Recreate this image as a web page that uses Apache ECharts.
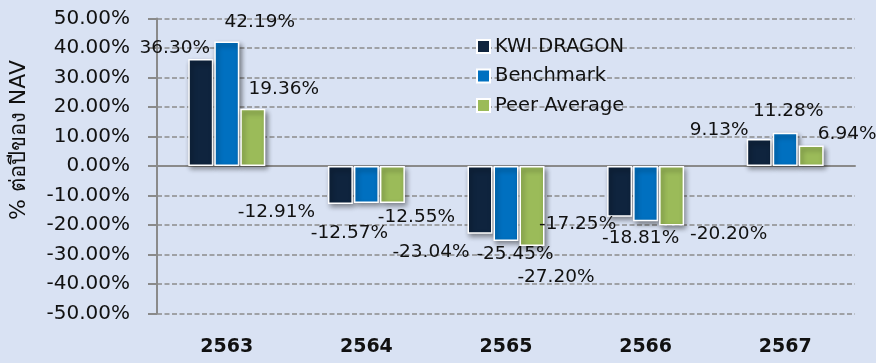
<!DOCTYPE html>
<html>
<head>
<meta charset="utf-8">
<script src="https://cdn.jsdelivr.net/npm/echarts@6/dist/echarts.min.js"></script>
<style>
  html, body { margin: 0; padding: 0; background: #D9E2F3; }
  #chart { width: 876px; height: 363px; }
</style>
</head>
<body>
<div id="chart"></div>
<script>
// Yearly returns (% per year of NAV)
const years = ['2563', '2564', '2565', '2566', '2567'];
const kwiDragon = [36.30, -12.91, -23.04, -17.25, 9.13];
const benchmark = [42.19, -12.57, -25.45, -18.81, 11.28];
const peerAverage = [19.36, -12.55, -27.20, -20.20, 6.94];
const seriesNames = ['KWI DRAGON', 'Benchmark', 'Peer Average'];
const yMin = -50, yMax = 50, yStep = 10;

// Hand-placed label nudges (px) for each bar's value label
const kwiLabelShift = [[-26, 0], [-64, -3], [-49, 7], [-42, -4], [-40, 2]];
const benchLabelShift = [[33, -8], [-17, 19], [9, 2], [-5, 6], [3, -10]];
const peerLabelShift = [[31, -9], [24, 3], [24, 20], [57, -2], [36, 0]];

const FONT = "'DejaVu Sans', 'Noto Sans', sans-serif";
const colors = ['#0F243E', '#0070C0', '#9BBB59'];

function barSeries(name, values, shifts, color) {
  return {
    name: name,
    type: 'bar',
    xAxisIndex: 0,
    barWidth: 25,
    barGap: '4%',
    itemStyle: {
      color: color,
      borderColor: '#FFFFFF',
      borderWidth: 1.5,
      shadowColor: 'rgba(0,0,0,0.45)',
      shadowBlur: 5,
      shadowOffsetX: 2,
      shadowOffsetY: 3
    },
    data: values.map((v, i) => ({
      value: v,
      label: { offset: shifts[i] }
    })),
    label: {
      show: true,
      position: 'outside',
      distance: 0,
      fontFamily: FONT,
      fontSize: 18.5,
      lineHeight: 22,
      color: '#111',
      formatter: p => p.value.toFixed(2) + '%'
    }
  };
}

const chart = echarts.init(document.getElementById('chart'), null, { renderer: 'canvas' });
chart.setOption({
  backgroundColor: '#D9E2F3',
  animation: false,
  grid: { left: 157, right: 21, top: 18.5, bottom: 49.7, containLabel: false },
  legend: {
    orient: 'vertical',
    left: 471,
    top: 31.5,
    icon: 'rect',
    itemWidth: 13,
    itemHeight: 13,
    itemGap: 9.5,
    textStyle: { fontFamily: FONT, fontSize: 19.5, lineHeight: 20, color: '#111' },
    data: seriesNames
  },
  graphic: [{
    type: 'text',
    x: 19,
    y: 140,
    rotation: Math.PI / 2,
    style: {
      text: '% ต่อปีของ NAV',
      font: "22px 'DejaVu Sans', 'Noto Sans', sans-serif",
      fill: '#111',
      textAlign: 'center',
      textVerticalAlign: 'middle'
    }
  }],
  xAxis: [{
    type: 'category',
    data: years,
    position: 'bottom',
    axisLine: { show: false, onZero: false },
    axisTick: { show: false },
    axisLabel: {
      margin: 24,
      fontFamily: FONT,
      fontSize: 19,
      fontWeight: 'bold',
      color: '#111'
    }
  }, {
    type: 'category',
    data: years,
    position: 'bottom',
    axisLine: { show: true, onZero: true, lineStyle: { color: '#8A8A8A', width: 2 } },
    axisTick: { show: false },
    axisLabel: { show: false }
  }],
  yAxis: {
    type: 'value',
    min: yMin,
    max: yMax,
    interval: yStep,
    axisLine: { show: true, lineStyle: { color: '#8A8A8A', width: 2 } },
    axisTick: { show: true, length: 9, inside: false, lineStyle: { color: '#8A8A8A', width: 2 } },
    splitLine: { show: true, lineStyle: { color: '#8C8C8C', width: 1.5, type: [5, 2.5] } },
    axisLabel: {
      margin: 27,
      fontFamily: FONT,
      fontSize: 20,
      color: '#111',
      formatter: v => v.toFixed(2) + '%'
    }
  },
  series: [
    barSeries(seriesNames[0], kwiDragon, kwiLabelShift, colors[0]),
    barSeries(seriesNames[1], benchmark, benchLabelShift, colors[1]),
    barSeries(seriesNames[2], peerAverage, peerLabelShift, colors[2])
  ]
});
</script>
</body>
</html>
